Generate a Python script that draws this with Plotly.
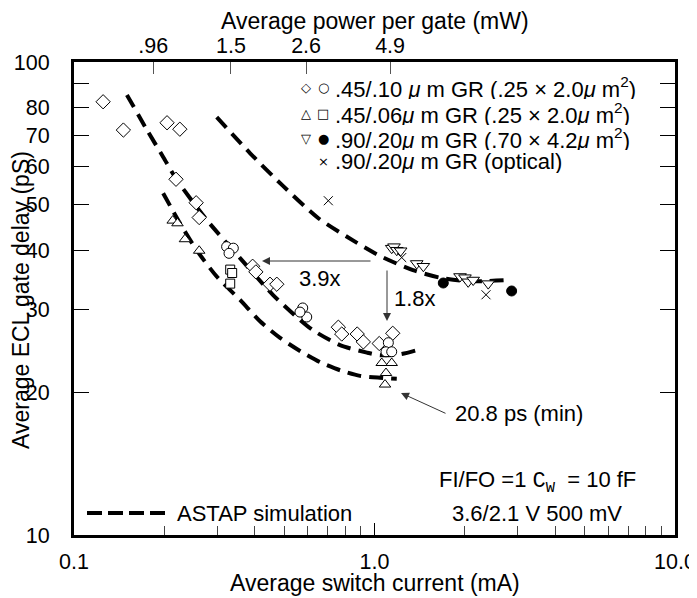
import plotly.graph_objects as go

# ---------------- data ----------------
diamond_x = [0.125, 0.146, 0.204, 0.225, 0.2185, 0.255, 0.261, 0.393, 0.403, 0.449, 0.473,
             0.758, 0.778, 0.876, 0.918, 1.15, 1.037]
diamond_y = [82.4, 71.8, 74.4, 72.1, 56.5, 50.4, 46.9, 37.0, 36.0, 33.9, 33.9,
             27.5, 26.6, 26.6, 25.6, 26.7, 25.4]

circle_x = [0.322, 0.339, 0.328, 0.577, 0.595, 0.565, 1.112, 1.092, 1.141]
circle_y = [40.7, 40.4, 39.4, 30.2, 28.9, 29.6, 25.5, 24.4, 24.4]

tri_up_x = [0.213, 0.221, 0.234, 0.261, 1.057, 1.141, 1.092, 1.084]
tri_up_y = [46.2, 45.6, 42.2, 39.9, 23.1, 23.1, 22.0, 20.8]

square_x = [0.331, 0.336, 0.331]
square_y = [36.4, 35.8, 34.0]

tri_down_x = [1.141, 1.161, 1.186, 1.222, 1.382, 1.454, 1.926, 2.00, 2.05, 2.13, 2.39]
tri_down_y = [40.4, 40.7, 40.0, 39.9, 37.5, 37.0, 35.2, 35.0, 34.3, 34.6, 34.0]

filled_x = [1.694, 2.86]
filled_y = [34.1, 32.8]

cross_x = [0.702, 1.232, 2.35]
cross_y = [50.9, 38.6, 32.2]

# ASTAP simulation curves
simA_x = [0.198, 0.2253, 0.256, 0.2985, 0.357, 0.416, 0.485, 0.565, 0.659, 0.768, 0.895, 1.043, 1.186]
simA_y = [52.8, 45.6, 40.0, 35.2, 31.4, 28.3, 26.1, 24.5, 23.2, 22.3, 21.7, 21.5, 21.4]

simB_x = [0.150, 0.175, 0.198, 0.220, 0.277, 0.357, 0.459, 0.565, 0.624, 0.768, 0.944, 1.043, 1.216, 1.417]
simB_y = [85.2, 71.8, 63.0, 56.3, 46.3, 38.5, 32.2, 28.5, 27.1, 25.2, 24.3, 24.0, 24.1, 24.7]

simC_x = [0.2985, 0.385, 0.496, 0.649, 0.810, 1.043, 1.343, 1.652, 2.031, 2.80]
simC_y = [76.5, 64.2, 54.7, 46.8, 42.7, 38.9, 36.3, 35.0, 34.4, 34.6]

# axis ticks
x_tickvals = [0.1, 1.0, 10.0]
x_ticktext = ["0.1", "1.0", "10.0"]
x_minor = [0.2, 0.3, 0.4, 0.5, 0.6, 0.7, 0.8, 0.9, 2, 3, 4, 5, 6, 7, 8, 9]
y_tickvals = [10, 20, 30, 40, 50, 60, 70, 80, 90, 100]
y_ticktext = ["10", "20", "30", "40", "50", "60", "70", "80", "", "100"]
top_tickvals = [0.1836, 0.333, 0.592, 1.127]
top_ticktext = [".96", "1.5", "2.6", "4.9"]

FONT = "Liberation Sans, Arial, Helvetica, sans-serif"
FS = 22
FTICK = 21.5
FT = 23

fig = go.Figure()

dash = "14px,8px"
for sx, sy in [(simA_x, simA_y), (simB_x, simB_y), (simC_x, simC_y)]:
    fig.add_trace(go.Scatter(x=sx, y=sy, mode="lines",
                             line=dict(color="black", width=4, dash=dash, shape="spline", smoothing=0.7),
                             hoverinfo="skip", showlegend=False))

def mk(x, y, symbol, size, fill="white"):
    fig.add_trace(go.Scatter(x=x, y=y, mode="markers", showlegend=False,
                             marker=dict(symbol=symbol, size=size, color=fill,
                                         line=dict(color="black", width=1))))

mk(diamond_x, diamond_y, "diamond", 11)
mk(circle_x, circle_y, "circle", 10)
mk(tri_up_x, tri_up_y, "triangle-up", 10)
mk(square_x, square_y, "square", 9)
mk(tri_down_x, tri_down_y, "triangle-down", 11)
mk(filled_x, filled_y, "circle", 10, fill="black")
fig.add_trace(go.Scatter(x=cross_x, y=cross_y, mode="markers", showlegend=False,
                         marker=dict(symbol="x-thin-open", size=9, color="black",
                                     line=dict(color="black", width=1))))

# dummy trace for the top axis
fig.add_trace(go.Scatter(x=[0.5, 0.5], y=[50, 50], xaxis="x2", mode="markers",
                         marker=dict(opacity=0), hoverinfo="skip", showlegend=False))

# page layout (the page body has an 8px margin)
OFF = 8
W, H = 697 - OFF, 598 - OFF
PL, PR, PT, PB = 74, 675, 62, 535      # plot box in page pixels
L, T = PL - OFF, PT - OFF
R = W - (PR - OFF)
B = H - (PB - OFF)
pw, ph = PR - PL, PB - PT

def px(x):
    return (x - PL) / pw

def py(y):
    return (PB - y) / ph

fig.update_layout(
    width=W, height=H,
    margin=dict(l=L, r=R, t=T, b=B, autoexpand=False),
    paper_bgcolor="white", plot_bgcolor="white",
    font=dict(family=FONT, size=FS, color="black"),
    showlegend=False,
    xaxis=dict(type="log", range=[-1, 1], tickmode="array", tickvals=x_tickvals, ticktext=x_ticktext,
               ticks="inside", ticklen=12, tickwidth=1, tickcolor="black", tickfont=dict(size=FTICK),
               minor=dict(tickvals=x_minor, ticks="inside", ticklen=9, tickwidth=1, tickcolor="#444"),
               showline=True, linewidth=3, linecolor="black", mirror=True, automargin=False,
               showgrid=False, zeroline=False, ticklabelstandoff=5),
    xaxis2=dict(type="log", range=[-1, 1], overlaying="x", side="top", tickmode="array",
                tickvals=top_tickvals, ticktext=top_ticktext, ticks="inside", ticklen=12,
                tickwidth=1, tickcolor="#555", showline=False, showgrid=False, zeroline=False,
                tickfont=dict(size=FTICK), automargin=False, ticklabelstandoff=4),
    yaxis=dict(type="log", range=[1, 2], tickmode="array", tickvals=y_tickvals, ticktext=y_ticktext,
               ticks="inside", ticklen=15, tickwidth=1, tickcolor="black", tickfont=dict(size=FTICK),
               showline=True, linewidth=3, linecolor="black", mirror="ticks", automargin=False,
               showgrid=False, zeroline=False, ticklabelstandoff=17),
)

ann = []
# axis titles
ann.append(dict(text="Average switch current (mA)", xref="paper", yref="paper",
                x=0.5, y=py(583), showarrow=False, xanchor="center", yanchor="middle",
                font=dict(size=FT)))
ann.append(dict(text="Average power per gate (mW)", xref="paper", yref="paper",
                x=0.5, y=py(21), showarrow=False, xanchor="center", yanchor="middle",
                font=dict(size=FT)))
ann.append(dict(text="Average ECL gate delay (pS)", xref="paper", yref="paper", textangle=-90,
                x=px(21), y=py(300), showarrow=False, xanchor="center", yanchor="middle",
                font=dict(size=FT)))

# legend rows
rows = [
    (88, ["\u25C7", "\u25CB"], ".45/.10 <i>\u03bc</i> m GR (.25 \u00d7 2.0<i>\u03bc</i> m<sup>2</sup>)"),
    (113, ["\u25B3", "\u25A1"], ".45/.06<i>\u03bc</i> m GR (.25 \u00d7 2.0<i>\u03bc</i> m<sup>2</sup>)"),
    (138, ["\u25BD", "\u25CF"], ".90/.20<i>\u03bc</i> m GR (.70 \u00d7 4.2<i>\u03bc</i> m<sup>2</sup>)"),
    (162, ["", "\u00d7"], ".90/.20<i>\u03bc</i> m GR (optical)"),
]
for yy, syms, txt in rows:
    ann.append(dict(text=txt, xref="paper", yref="paper", x=px(333), y=py(yy),
                    showarrow=False, xanchor="left", yanchor="middle", font=dict(size=FS),
                    height=23, valign="middle"))
    for sx, s in zip([306, 323], syms):
        if s:
            ann.append(dict(text=s, xref="paper", yref="paper", x=px(sx), y=py(yy),
                            showarrow=False, xanchor="center", yanchor="middle",
                            font=dict(size=13, family="DejaVu Sans")))

# bottom texts
ann.append(dict(text="ASTAP simulation", xref="paper", yref="paper", x=px(175), y=py(513),
                showarrow=False, xanchor="left", yanchor="middle"))
ann.append(dict(text="FI/FO =1 <span style=\"font-family:Liberation Mono\">C<sub>W</sub></span>  = 10 fF",
                xref="paper", yref="paper", x=px(537), y=py(482),
                showarrow=False, xanchor="center", yanchor="middle"))
ann.append(dict(text="3.6/2.1 V 500 mV", xref="paper", yref="paper", x=px(537), y=py(513),
                showarrow=False, xanchor="center", yanchor="middle"))

# arrow labels
ann.append(dict(text="3.9x", xref="paper", yref="paper", x=px(320), y=py(278),
                showarrow=False, xanchor="center", yanchor="middle"))
ann.append(dict(text="1.8x", xref="paper", yref="paper", x=px(415), y=py(298),
                showarrow=False, xanchor="center", yanchor="middle"))
ann.append(dict(text="20.8 ps (min)", xref="paper", yref="paper", x=px(519), y=py(413),
                showarrow=False, xanchor="center", yanchor="middle"))

# arrows
arrow = dict(text="", xref="paper", yref="paper", showarrow=True, arrowhead=2,
             arrowsize=1.6, arrowwidth=1, arrowcolor="#333")
ann.append(dict(arrow, x=px(262), y=py(261), ax=110, ay=0))
ann.append(dict(arrow, x=px(387), y=py(321), ax=0, ay=-52))
ann.append(dict(arrow, x=px(401), y=py(393), ax=46, ay=21))

fig.update_layout(annotations=ann)

# legend dash sample for the simulation
fig.add_shape(type="line", xref="paper", yref="paper", x0=px(87), x1=px(166), y0=py(513), y1=py(513),
              line=dict(color="black", width=4, dash="15px,6px"))

fig.write_html("out.html")
